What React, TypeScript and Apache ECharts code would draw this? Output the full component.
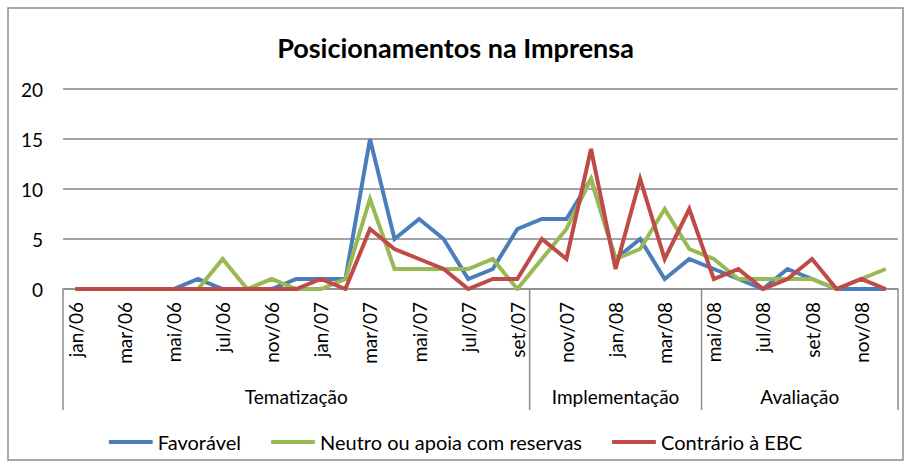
import React, { useEffect, useRef } from "react";
import * as echarts from "echarts";

const categories = [
  "jan/06", "fev/06", "mar/06", "abr/06", "mai/06", "jun/06", "jul/06", "ago/06",
  "nov/06", "dez/06", "jan/07", "fev/07", "mar/07", "abr/07", "mai/07", "jun/07",
  "jul/07", "ago/07", "set/07", "out/07", "nov/07", "dez/07", "jan/08", "fev/08",
  "mar/08", "abr/08", "mai/08", "jun/08", "jul/08", "ago/08", "set/08", "out/08",
  "nov/08", "dez/08",
];

const favoravel = [0, 0, 0, 0, 0, 1, 0, 0, 0, 1, 1, 1, 15, 5, 7, 5, 1, 2, 6, 7, 7, 11, 3, 5, 1, 3, 2, 1, 0, 2, 1, 0, 0, 0];
const neutro = [0, 0, 0, 0, 0, 0, 3, 0, 1, 0, 0, 1, 9, 2, 2, 2, 2, 3, 0, 3, 6, 11, 3, 4, 8, 4, 3, 1, 1, 1, 1, 0, 1, 2];
const contrario = [0, 0, 0, 0, 0, 0, 0, 0, 0, 0, 1, 0, 6, 4, 3, 2, 0, 1, 1, 5, 3, 14, 2, 11, 3, 8, 1, 2, 0, 1, 3, 0, 1, 0];

const groupNames = ["Tematização", "Implementação", "Avaliação"];
const groupStart = [0, 19, 26];
const groupEnd = [18, 25, 33];

const seriesNames = ["Favorável", "Neutro ou apoia com reservas", "Contrário à EBC"];
const seriesColors = ["#4A7EBB", "#98B954", "#BE4B48"];

const FONT = "Lato";

export default function App() {
  const ref = useRef<HTMLDivElement>(null);

  useEffect(() => {
    if (!ref.current) return;
    const chart = echarts.init(ref.current, null, { renderer: "svg" });
    const seriesData = [favoravel, neutro, contrario];
    chart.setOption({
      animation: false,
      backgroundColor: "#ffffff",
      textStyle: { fontFamily: FONT },
      title: {
        text: "Posicionamentos na Imprensa",
        left: "center",
        top: 29,
        textStyle: { fontFamily: FONT, fontWeight: "bold", fontSize: 27, color: "#000" },
      },
      grid: { left: 63, right: 13, top: 89, bottom: 177 },
      legend: {
        top: 427,
        left: "center",
        icon: "roundRect",
        itemWidth: 44,
        itemHeight: 4,
        itemGap: 30,
        textStyle: { fontFamily: FONT, fontSize: 20, color: "#000" },
        data: seriesNames,
      },
      xAxis: {
        type: "category",
        data: categories,
        boundaryGap: true,
        axisLine: { lineStyle: { color: "#8c8c8c", width: 1.5 } },
        axisTick: { show: false },
        axisLabel: { interval: 1, rotate: 90, margin: 13, fontSize: 19, color: "#000", fontFamily: FONT },
      },
      yAxis: {
        type: "value",
        min: 0,
        max: 20,
        interval: 5,
        axisLine: { show: false },
        axisTick: { show: false },
        splitLine: { lineStyle: { color: "#868686", width: 1.6 } },
        axisLabel: { margin: 20, fontSize: 19, color: "#000", fontFamily: FONT },
      },
      series: seriesNames.map((name, i) => ({
        name,
        type: "line",
        data: seriesData[i],
        symbol: "none",
        color: seriesColors[i],
        lineStyle: { width: 4, color: seriesColors[i], join: "miter" },
      })),
    });

    const px = (i: number) => chart.convertToPixel({ xAxisIndex: 0 }, i) as number;
    const y0 = chart.convertToPixel({ yAxisIndex: 0 }, 0) as number;
    const w = px(1) - px(0);
    const edges: number[] = [px(0) - w / 2];
    groupEnd.forEach((e) => edges.push(px(e) + w / 2));
    const graphics: any[] = [
      {
        type: "rect",
        silent: true,
        shape: { x: 8, y: 8, width: 895, height: 452 },
        style: { fill: "none", stroke: "#8c8c8c", lineWidth: 1.5 },
      },
    ];
    edges.forEach((x) => {
      graphics.push({
        type: "line",
        silent: true,
        shape: { x1: x, y1: y0, x2: x, y2: y0 + 121 },
        style: { stroke: "#8c8c8c", lineWidth: 1.5 },
      });
    });
    groupNames.forEach((g, k) => {
      const cx = (px(groupStart[k]) - w / 2 + px(groupEnd[k]) + w / 2) / 2;
      graphics.push({
        type: "text",
        silent: true,
        x: cx,
        y: y0 + 107,
        style: {
          text: g,
          align: "center",
          verticalAlign: "middle",
          fontFamily: FONT,
          fontSize: 19,
          fill: "#000",
        },
      });
    });
    chart.setOption({ graphic: graphics });

    return () => chart.dispose();
  }, []);

  return (
    <div
      ref={ref}
      style={{ position: "fixed", left: 0, top: 0, width: 911, height: 466 }}
    />
  );
}
